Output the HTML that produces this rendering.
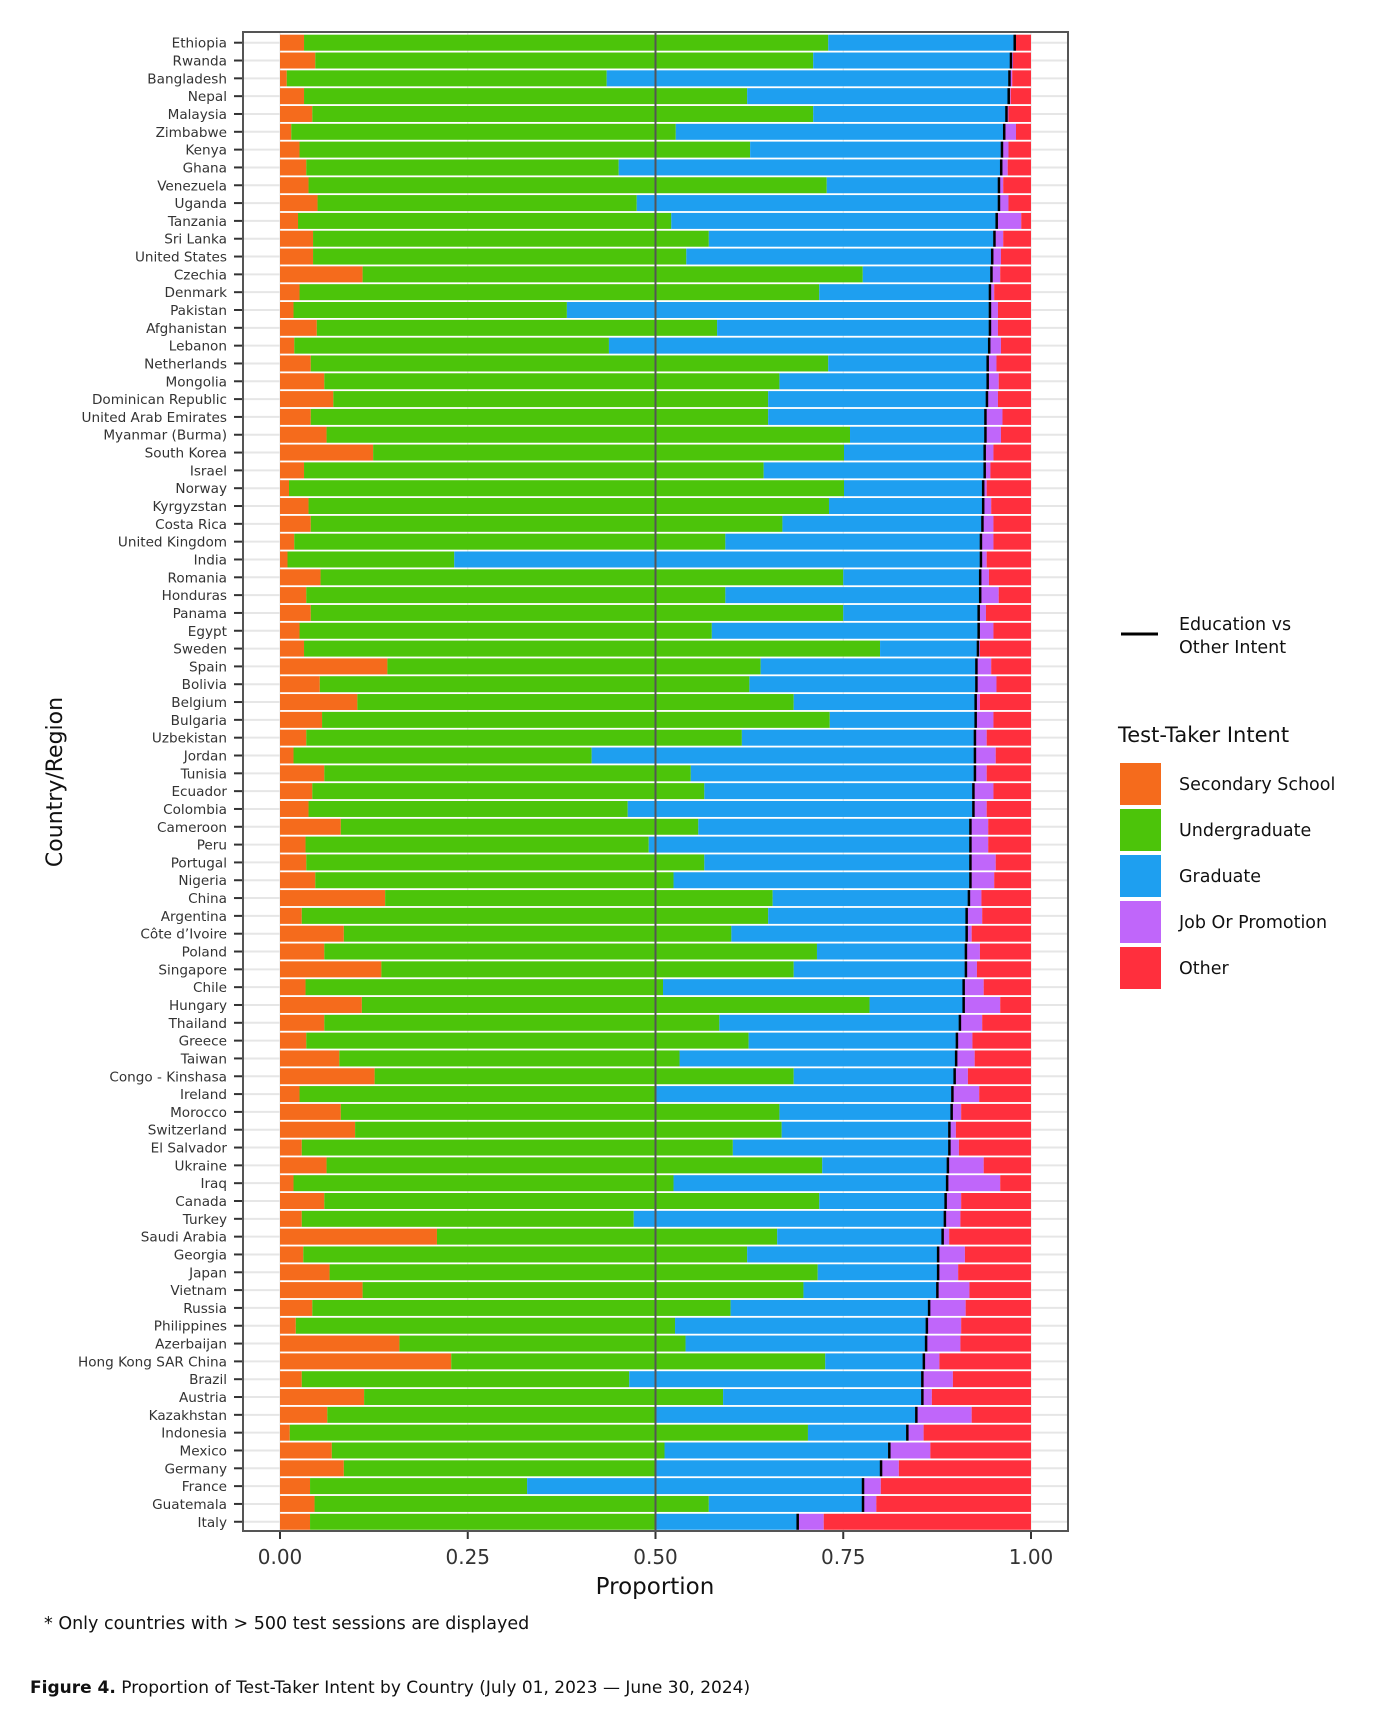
<!DOCTYPE html>
<html><head><meta charset="utf-8">
<style>
body{margin:0;background:#fff;}
svg{display:block;font-family:"DejaVu Sans","Liberation Sans",sans-serif;}
</style></head>
<body>
<svg id="chart" width="1392" height="1732" viewBox="0 0 1392 1732" xmlns="http://www.w3.org/2000/svg">
<g id="grid"></g>
<g id="bars"></g>
<g id="axes"></g>
<rect x="243" y="32" width="825" height="1499" fill="none" stroke="#555" stroke-width="2"/>
<text x="655" y="1594" font-size="23" text-anchor="middle" fill="#111">Proportion</text>
<text transform="translate(62,782) rotate(-90)" font-size="22" text-anchor="middle" fill="#111">Country/Region</text>
<text x="44" y="1629" font-size="17.5" fill="#111">* Only countries with &gt; 500 test sessions are displayed</text>
<text x="30" y="1693" font-size="17" fill="#111"><tspan font-weight="bold">Figure 4.</tspan>  Proportion of Test-Taker Intent by Country (July 01, 2023 — June 30, 2024)</text>
<g>
<line x1="1121" y1="634" x2="1158" y2="634" stroke="#000" stroke-width="3"/>
<text x="1179" y="630" font-size="17.5" fill="#111">Education vs</text>
<text x="1179" y="653" font-size="17.5" fill="#111">Other Intent</text>
</g>
<text x="1118" y="742" font-size="21" fill="#111">Test-Taker Intent</text>
<g id="legend"></g>
</svg>
<script>
const countries=["Ethiopia","Rwanda","Bangladesh","Nepal","Malaysia","Zimbabwe","Kenya","Ghana","Venezuela","Uganda","Tanzania","Sri Lanka","United States","Czechia","Denmark","Pakistan","Afghanistan","Lebanon","Netherlands","Mongolia","Dominican Republic","United Arab Emirates","Myanmar (Burma)","South Korea","Israel","Norway","Kyrgyzstan","Costa Rica","United Kingdom","India","Romania","Honduras","Panama","Egypt","Sweden","Spain","Bolivia","Belgium","Bulgaria","Uzbekistan","Jordan","Tunisia","Ecuador","Colombia","Cameroon","Peru","Portugal","Nigeria","China","Argentina","Côte d’Ivoire","Poland","Singapore","Chile","Hungary","Thailand","Greece","Taiwan","Congo - Kinshasa","Ireland","Morocco","Switzerland","El Salvador","Ukraine","Iraq","Canada","Turkey","Saudi Arabia","Georgia","Japan","Vietnam","Russia","Philippines","Azerbaijan","Hong Kong SAR China","Brazil","Austria","Kazakhstan","Indonesia","Mexico","Germany","France","Guatemala","Italy"];
// cumulative proportion through each intent
const secondaryEnd=[.032,.047,.009,.032,.043,.015,.026,.035,.038,.05,.024,.044,.044,.11,.026,.018,.049,.019,.041,.059,.071,.041,.062,.124,.032,.012,.038,.041,.019,.01,.054,.035,.041,.026,.032,.143,.053,.103,.056,.035,.018,.059,.043,.038,.081,.034,.035,.047,.14,.029,.085,.059,.135,.034,.109,.059,.035,.079,.126,.026,.081,.1,.029,.062,.018,.059,.029,.209,.031,.066,.11,.043,.021,.159,.228,.029,.112,.063,.013,.069,.085,.04,.046,.04];
const undergradEnd=[.73,.71,.435,.622,.71,.527,.626,.451,.728,.475,.521,.571,.541,.776,.718,.382,.582,.438,.73,.665,.65,.65,.759,.751,.644,.751,.731,.669,.593,.232,.75,.593,.75,.575,.799,.64,.625,.684,.732,.615,.415,.547,.565,.463,.557,.491,.565,.524,.656,.65,.601,.715,.684,.51,.785,.585,.624,.532,.684,.499,.665,.668,.603,.722,.524,.718,.471,.662,.622,.716,.697,.6,.526,.54,.726,.465,.59,.501,.703,.512,.501,.329,.571,.501];
const graduateEnd=[.977,.972,.97,.969,.966,.963,.96,.959,.956,.956,.953,.95,.947,.946,.944,.944,.944,.943,.941,.941,.94,.938,.938,.937,.937,.935,.935,.934,.932,.932,.931,.931,.929,.929,.928,.926,.926,.925,.925,.924,.924,.924,.922,.922,.918,.918,.918,.918,.916,.913,.913,.912,.912,.909,.909,.904,.9,.899,.897,.894,.893,.89,.89,.888,.887,.885,.884,.881,.875,.875,.874,.863,.86,.859,.856,.854,.854,.846,.834,.81,.799,.775,.775,.688];
const jobEnd=[.98,.976,.975,.973,.97,.98,.97,.969,.963,.97,.987,.963,.96,.959,.951,.956,.956,.96,.954,.957,.956,.962,.96,.95,.946,.941,.947,.95,.95,.941,.944,.957,.94,.95,.932,.947,.954,.932,.95,.941,.953,.941,.95,.941,.943,.943,.953,.951,.934,.935,.921,.932,.928,.937,.959,.935,.922,.925,.916,.931,.907,.9,.904,.937,.959,.907,.906,.891,.912,.903,.918,.913,.907,.906,.878,.896,.868,.921,.857,.866,.824,.8,.794,.724];
const xTicks=[0,0.25,0.5,0.75,1];
const xTickLabels=["0.00","0.25","0.50","0.75","1.00"];
const categories=["Secondary School","Undergraduate","Graduate","Job Or Promotion","Other"];
const colors=["#F56B1C","#4CC40A","#1E9FF0","#C066FA","#FF2F3D"];

const NS="http://www.w3.org/2000/svg";
const X0=280,XW=751,Y0=42.7,DY=17.82,BH=16;
const xs=v=>X0+v*XW;
const ys=i=>Y0+i*DY;
function mk(tag,attrs,parent){const e=document.createElementNS(NS,tag);for(const k in attrs)e.setAttribute(k,attrs[k]);parent.appendChild(e);return e;}
const grid=document.getElementById('grid'),bars=document.getElementById('bars'),axes=document.getElementById('axes'),legend=document.getElementById('legend');
countries.forEach((c,i)=>{
  const l=mk('line',{x1:244,x2:1067,y1:ys(i),y2:ys(i),stroke:'#e6e6e6','stroke-width':2},grid);
  
  
});
xTicks.forEach(t=>{
  if(t===0.5)return;
  const l=mk('line',{x1:xs(t),x2:xs(t),y1:33,y2:1530,stroke:'#e6e6e6','stroke-width':1},grid);
  
  
});
countries.forEach((c,i)=>{
  const b=[0,secondaryEnd[i],undergradEnd[i],graduateEnd[i],jobEnd[i],1];
  for(let k=0;k<5;k++){
    const r=mk('rect',{x:xs(b[k]),y:ys(i)-BH/2,width:Math.max(0,xs(b[k+1])-xs(b[k])),height:BH,fill:colors[k]},bars);
    
    
  }
  const m=mk('line',{x1:xs(graduateEnd[i])+1,x2:xs(graduateEnd[i])+1,y1:ys(i)-BH/2,y2:ys(i)+BH/2,stroke:'#000','stroke-width':2.5},bars);
  
  
  const t=mk('text',{x:227,y:ys(i)+5,'font-size':13.6,'text-anchor':'end',fill:'#333'},axes);
  t.textContent=c;
  
  
  const tk=mk('line',{x1:234,x2:242,y1:ys(i),y2:ys(i),stroke:'#333','stroke-width':2},axes);
  
  
});
const mid=mk('line',{x1:xs(0.5),x2:xs(0.5),y1:33,y2:1530,stroke:'#555','stroke-width':2},bars);


xTicks.forEach((t,i)=>{
  const tk=mk('line',{x1:xs(t),x2:xs(t),y1:1532,y2:1539,stroke:'#333','stroke-width':2},axes);
  
  
  const lb=mk('text',{x:xs(t),y:1564,'font-size':20,'text-anchor':'middle',fill:'#333'},axes);
  lb.textContent=xTickLabels[i];
  
  
});
categories.forEach((c,k)=>{
  const r=mk('rect',{x:1120,y:763+k*46,width:41,height:42,fill:colors[k]},legend);
  
  
  const t=mk('text',{x:1179,y:790+k*46,'font-size':17.5,fill:'#111'},legend);
  t.textContent=c;
  
  
});
</script>
</body></html>
